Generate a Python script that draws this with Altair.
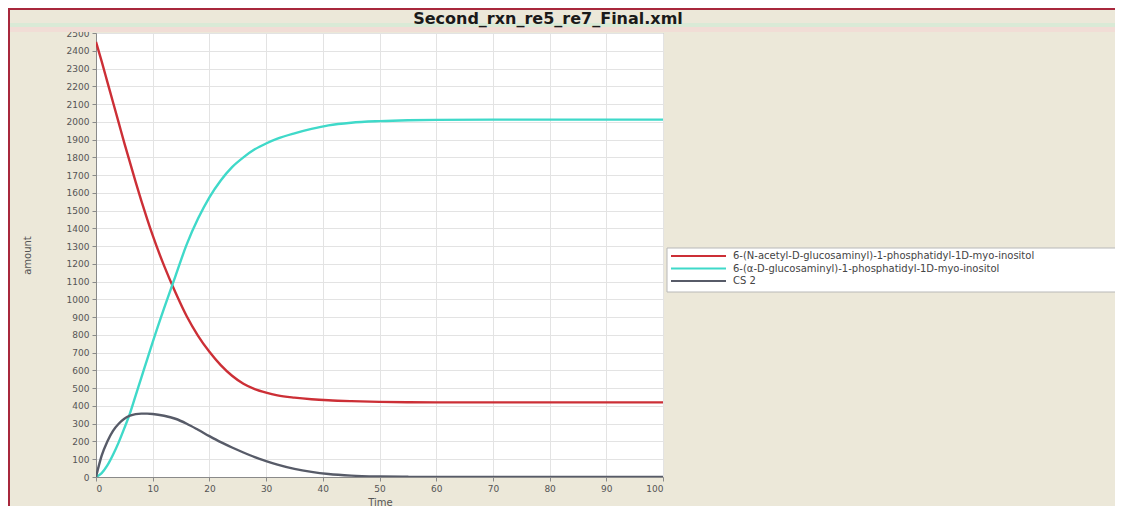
import altair as alt
import pandas as pd

# ---- data ----
times = [0, 1, 2, 3, 4, 5, 6, 7, 8, 9, 10, 12, 14, 16, 18, 20, 22, 24, 26, 28, 30,
         32, 35, 38, 41, 45, 50, 55, 60, 70, 80, 90, 100]
red_vals = [2450, 2340, 2225, 2110, 1995, 1880, 1770, 1660, 1555, 1455, 1360, 1190, 1040,
            905, 795, 705, 630, 570, 525, 495, 475, 460, 447, 438, 432, 427, 423, 421,
            420, 420, 420, 420, 420]
cyan_vals = [0, 22, 65, 125, 195, 275, 360, 460, 560, 660, 760, 950, 1130, 1310, 1455,
             1575, 1670, 1745, 1800, 1845, 1878, 1905, 1935, 1960, 1980, 1995, 2004,
             2009, 2011, 2012, 2012, 2012, 2012]
cs2_vals = [0, 120, 200, 260, 300, 328, 345, 354, 357, 357, 355, 345, 328, 300, 266, 230,
            196, 166, 138, 112, 90, 70, 46, 29, 17, 8, 3, 1, 0, 0, 0, 0, 0]

series_names = [
    "6-(N-acetyl-D-glucosaminyl)-1-phosphatidyl-1D-myo-inositol",
    "6-(α-D-glucosaminyl)-1-phosphatidyl-1D-myo-inositol",
    "CS 2",
]
series_colors = ["#cc2f36", "#3fd9c9", "#575b68"]
x_ticks = [0, 10, 20, 30, 40, 50, 60, 70, 80, 90, 100]
y_ticks = list(range(0, 2501, 100))
title_text = "Second_rxn_re5_re7_Final.xml"

rows = []
for name, vals in zip(series_names, [red_vals, cyan_vals, cs2_vals]):
    for t, v in zip(times, vals):
        rows.append({"Time": t, "amount": v, "series": name})
df = pd.DataFrame(rows)

leg_df = pd.DataFrame({"row": list(range(len(series_names))),
                       "series": series_names, "color": series_colors})

W, H = 567, 444
PAD = {"left": 88, "top": 25, "right": 452, "bottom": 29}

one = pd.DataFrame({"k": [0]})

# decorative bands / border of the screenshot
green_band = alt.Chart(one).mark_rect(color="#d9ead6").encode(
    x=alt.value(-88), x2=alt.value(W + 460), y=alt.value(-10), y2=alt.value(-6))
pink_band = alt.Chart(one).mark_rect(color="#f1ddd6").encode(
    x=alt.value(-88), x2=alt.value(W + 460), y=alt.value(-6), y2=alt.value(-1))
border = alt.Chart(one).mark_rect(fill=None, stroke="#a8283c", strokeWidth=2).encode(
    x=alt.value(-87), x2=alt.value(W + 470), y=alt.value(-24), y2=alt.value(H + 60))

lines = alt.Chart(df).mark_line(strokeWidth=2.4, interpolate="monotone", clip=True).encode(
    x=alt.X("Time:Q", scale=alt.Scale(domain=[0, 100], nice=False),
            axis=alt.Axis(values=x_ticks, title="Time", titleFontSize=10,
                          titleFontWeight="normal", titleColor="#555",
                          titleFont="DejaVu Sans", titleY=20, titleX=284)),
    y=alt.Y("amount:Q", scale=alt.Scale(domain=[0, 2500], nice=False),
            axis=alt.Axis(values=y_ticks, format="d", title="amount", titleFontSize=10,
                          titleFontWeight="normal", titleColor="#555",
                          titleFont="DejaVu Sans", titleX=-64, titleY=222)),
    color=alt.Color("series:N",
                    scale=alt.Scale(domain=series_names, range=series_colors),
                    legend=None),
)

# legend drawn as marks
leg_box = alt.Chart(one).mark_rect(fill="white", stroke="#b8b8b8", strokeWidth=1).encode(
    x=alt.value(571), x2=alt.value(1040), y=alt.value(215), y2=alt.value(259))
leg_y = alt.Y("row:Q", scale=alt.Scale(domain=[0, 2], range=[223, 248]), axis=None)
leg_lines = alt.Chart(leg_df).mark_rule(strokeWidth=2.2).encode(
    x=alt.value(575), x2=alt.value(630), y=leg_y,
    color=alt.Color("color:N", scale=None))
leg_text = alt.Chart(leg_df).mark_text(
    align="left", baseline="middle", font="DejaVu Sans", fontSize=10, color="#444").encode(
    x=alt.value(637), y=leg_y, text="series:N")

title = alt.Chart(pd.DataFrame({"t": [title_text]})).mark_text(
    font="DejaVu Sans", fontSize=16, fontWeight="bold", color="#1a1a1a",
    align="center", baseline="alphabetic").encode(
    x=alt.value(452), y=alt.value(-9), text="t:N")

chart = alt.layer(
    green_band, pink_band, border, lines, leg_box, leg_lines, leg_text, title
).resolve_scale(y="independent", color="independent").properties(
    width=W, height=H, padding=PAD, autosize="none", background="#ece8d9",
).configure_view(fill="white", stroke="#9a9a9a", strokeWidth=1).configure_axis(
    grid=True, gridColor="#e3e3e3", gridWidth=1, domainColor="#8a8a8a",
    tickColor="#8a8a8a", tickSize=4, labelFont="DejaVu Sans", labelFontSize=9,
    labelColor="#555", labelPadding=3,
)

chart.save("out.html", embed_options={"renderer": "svg", "actions": False})
